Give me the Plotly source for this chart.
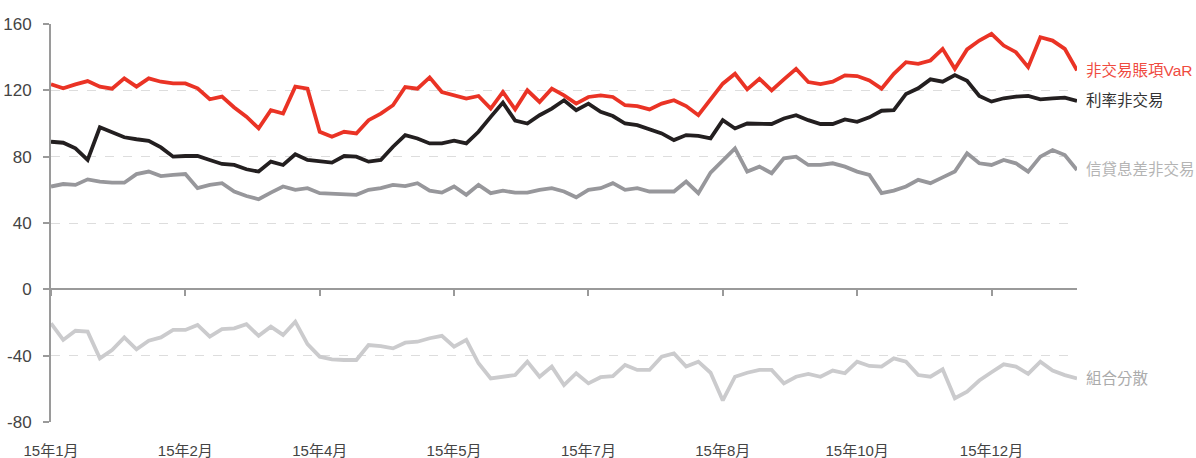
import plotly.graph_objects as go

# Trading-day index (every third session) and month labels on the category scale
days = list(range(0, 253, 3))
tick_days = [0, 33, 66, 99, 132, 165, 198, 231]
tick_labels = ["15年1月", "15年2月", "15年4月", "15年5月", "15年7月", "15年8月", "15年10月", "15年12月"]

# 非交易賬項VaR
var_total = [
    123.6, 121.2, 123.6, 125.6, 122.2, 121.0, 127.2, 122.2, 127.2, 125.2,
    124.2, 124.2, 121.2, 114.6, 116.2, 109.7, 104.1, 97.1, 108.0, 106.0,
    122.2, 121.0, 95.0, 92.0, 95.0, 94.0, 102.0, 106.0, 111.0, 122.0,
    121.0, 127.8, 119.0, 117.0, 115.0, 116.6, 109.0, 119.0, 108.5, 120.0,
    113.0, 121.0, 117.0, 112.0, 116.0, 117.0, 116.0, 111.0, 110.5, 108.5,
    112.0, 114.0, 110.5, 105.0, 114.6, 124.0, 130.0, 120.6, 127.0, 120.0,
    126.6, 133.0, 125.0, 123.8, 125.2, 129.0, 128.6, 126.0, 121.0, 130.0,
    137.0, 136.0, 138.0, 145.0, 133.0, 144.7, 150.0, 154.0, 147.0, 143.0,
    134.0, 152.0, 150.0, 145.0, 132.0,
]

# 利率非交易
rates = [
    89.0, 88.4, 85.0, 78.0, 97.7, 95.0, 91.7, 90.5, 89.6, 85.6,
    80.0, 80.4, 80.4, 78.0, 75.6, 75.0, 72.4, 71.0, 77.0, 75.0,
    81.4, 78.0, 77.0, 76.4, 80.4, 80.0, 77.0, 78.0, 86.0, 93.0,
    91.0, 88.0, 88.0, 89.6, 88.0, 95.0, 104.0, 112.6, 101.7, 100.0,
    105.0, 109.0, 114.0, 108.0, 112.0, 107.0, 104.5, 100.0, 99.0, 96.5,
    94.0, 90.0, 93.0, 92.5, 91.0, 102.0, 97.0, 100.0, 100.0, 99.7,
    103.0, 105.0, 102.0, 99.7, 99.7, 102.5, 101.0, 103.7, 107.7, 108.0,
    117.8, 121.2, 126.6, 125.2, 129.2, 125.8, 116.6, 113.2, 115.2, 116.2,
    116.6, 114.6, 115.2, 115.6, 113.6,
]

# 信貸息差非交易
credit = [
    62.0, 63.5, 63.0, 66.3, 65.0, 64.3, 64.3, 69.5, 71.0, 68.3,
    69.0, 69.5, 61.0, 63.0, 64.0, 59.0, 56.3, 54.3, 58.3, 62.0,
    60.0, 61.0, 58.0, 57.5, 57.5, 57.0, 60.0, 61.0, 63.0, 62.3,
    64.0, 59.5, 58.3, 62.0, 57.0, 63.0, 58.0, 59.5, 58.3, 58.3,
    60.0, 61.0, 59.0, 55.5, 60.0, 61.0, 64.0, 60.0, 61.0, 59.0,
    59.0, 59.0, 65.0, 58.0, 70.4, 78.0, 85.0, 71.0, 74.0, 70.0,
    79.0, 80.0, 75.0, 75.0, 76.0, 74.0, 71.0, 69.0, 58.0, 59.5,
    62.0, 66.0, 64.0, 67.5, 71.0, 82.0, 76.0, 75.0, 78.0, 76.0,
    71.0, 80.0, 84.0, 81.0, 72.0,
]

# 組合分散
diversification = [
    -20.5, -30.5, -25.0, -25.5, -41.6, -36.6, -29.0, -36.2, -31.0, -29.0,
    -24.5, -24.5, -21.5, -28.5, -24.0, -23.5, -21.0, -28.0, -22.5, -27.5,
    -19.5, -33.0, -40.6, -42.2, -42.6, -42.6, -33.6, -34.2, -35.6, -32.2,
    -31.6, -29.5, -28.0, -34.6, -30.5, -44.6, -53.7, -52.7, -51.7, -43.6,
    -52.7, -46.6, -57.7, -50.6, -56.7, -53.0, -52.3, -45.6, -48.6, -48.6,
    -40.6, -38.6, -46.6, -43.6, -50.3, -67.0, -52.7, -50.3, -48.6, -48.6,
    -56.7, -52.7, -51.0, -52.7, -49.0, -50.6, -43.6, -46.2, -46.6, -41.6,
    -43.6, -51.7, -52.7, -48.2, -65.7, -61.7, -55.0, -50.0, -45.2, -46.6,
    -51.0, -43.6, -49.0, -51.7, -53.7,
]

y_ticks = [-80, -40, 0, 40, 80, 120, 160]
y_tick_text = ["-80", "-40", "0", "40", "80", "120", "160"]

series = [
    ("非交易賬項VaR", var_total, "#ea3325", "#ef4b3f"),
    ("利率非交易", rates, "#231f20", "#333333"),
    ("信貸息差非交易", credit, "#97979b", "#b4b4b4"),
    ("組合分散", diversification, "#cbcbcd", "#ababab"),
]

FONT = "Liberation Sans, Noto Sans CJK TC, sans-serif"

fig = go.Figure()

# Order so the red series sits on top
for name, vals, color, _ in reversed(series):
    fig.add_trace(go.Scatter(
        x=days, y=vals, mode="lines", name=name,
        line=dict(color=color, width=3.8, shape="linear"),
        showlegend=False, hoverinfo="skip",
    ))

# Invisible carrier so the zero-line axis gets drawn
fig.add_trace(go.Scatter(
    x=days, y=var_total, xaxis="x2", mode="lines",
    line=dict(width=0), opacity=0, showlegend=False, hoverinfo="skip",
))

annotations = []
for name, vals, _, text_color in series:
    annotations.append(dict(
        x=days[-1], y=vals[-1], xref="x", yref="y",
        text=name, showarrow=False, xanchor="left", yanchor="middle",
        xshift=7, font=dict(family=FONT, size=15.5, color=text_color),
    ))

x_range = [days[0], days[-1]]

fig.update_layout(
    width=1196, height=458,
    margin=dict(l=51, r=119, t=24, b=36),
    paper_bgcolor="white", plot_bgcolor="white",
    font=dict(family=FONT),
    annotations=annotations,
    xaxis=dict(
        range=x_range, tickvals=tick_days, ticktext=tick_labels,
        showgrid=False, zeroline=False, showline=False, ticks="",
        ticklabelstandoff=18, automargin=False,
        tickfont=dict(family=FONT, size=15, color="#444444"),
    ),
    xaxis2=dict(
        overlaying="x", anchor="free", position=1 / 3, side="bottom",
        range=x_range, tickvals=tick_days, showticklabels=False,
        ticks="outside", ticklen=6, tickwidth=2, tickcolor="#9a9a9a",
        showline=True, linecolor="#9a9a9a", linewidth=2,
        showgrid=False, zeroline=False, automargin=False,
    ),
    yaxis=dict(
        range=[-80, 160], tickvals=y_ticks, ticktext=y_tick_text,
        showgrid=True, gridcolor="#dddddd", gridwidth=1, griddash="dash",
        zeroline=False, showline=True, linecolor="#9a9a9a", linewidth=2,
        ticks="outside", ticklen=6, tickwidth=2, tickcolor="#9a9a9a",
        ticklabelstandoff=8, automargin=False,
        tickfont=dict(family=FONT, size=17, color="#444444"),
    ),
)

fig.write_html("out.html")
